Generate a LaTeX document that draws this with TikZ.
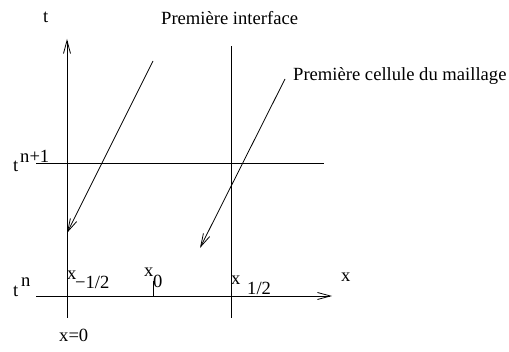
\documentclass[tikz,border=0pt]{standalone}
\usepackage{fontspec}
\setmainfont{Liberation Serif}
\usetikzlibrary{arrows.meta}
\begin{document}
\begin{tikzpicture}[x=1pt,y=-1pt,
  ln/.style={line width=0.8pt, draw=black},
  arr/.style={ln, -{Straight Barb[length=13pt,width=7pt,line width=0.8pt]}},
  lbl/.style={inner sep=0pt, anchor=base west, font=\fontsize{18.6}{21}\selectfont}]
\useasboundingbox (0,0) rectangle (509,352);
% coordinates
\coordinate (taxb) at (67,318);
\coordinate (taxt) at (67,39);
\coordinate (ifb) at (231,318);
\coordinate (ift) at (231,46);
\coordinate (hl) at (36,163);
\coordinate (hr) at (324,163);
\coordinate (xl) at (36,296);
\coordinate (xr) at (332,296);
\coordinate (tkb) at (153,296);
\coordinate (tkt) at (153,281);
\coordinate (a1s) at (153,61);
\coordinate (a1e) at (67,233);
\coordinate (a2s) at (285,79);
\coordinate (a2e) at (200,248);
% lines
\draw[arr] (taxb) -- (taxt);
\draw[ln] (ifb) -- (ift);
\draw[ln] (hl) -- (hr);
\draw[arr] (xl) -- (xr);
\draw[ln] (tkb) -- (tkt);
\draw[arr] (a1s) -- (a1e);
\draw[arr] (a2s) -- (a2e);
% labels
\node[lbl] (tlab) at (43,23) {t};
\node[lbl] (pi) at (161,25) {Première interface};
\node[lbl] (pc) at (293,81) {Première cellule du maillage};
\node[lbl] (tn1) at (13,172) {t};
\node[lbl] (n1) at (20,163) {n+1};
\node[lbl] (tn) at (13,297) {t};
\node[lbl] (nn) at (21,287) {n};
\node[lbl] (xm) at (67,280) {x};
\node[lbl] (xms) at (75,289) {−1/2};
\node[lbl] (x0) at (144,277) {x};
\node[lbl] (x0s) at (153,288) {0};
\node[lbl] (xp) at (231,285) {x};
\node[lbl] (xps) at (247,295) {1/2};
\node[lbl] (xlab) at (341,282) {x};
\node[lbl] (x0lab) at (59,342) {x=0};
\end{tikzpicture}
\end{document}
